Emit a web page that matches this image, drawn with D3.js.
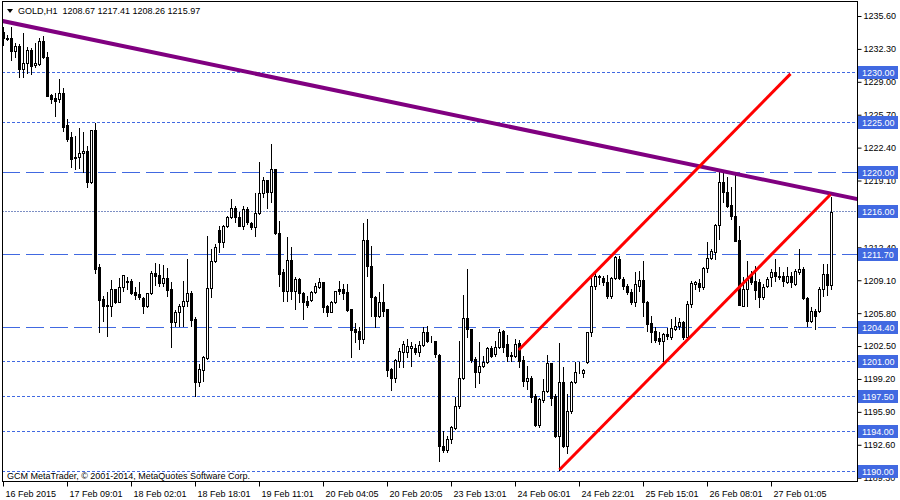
<!DOCTYPE html>
<html>
<head>
<meta charset="utf-8">
<script src="https://cdn.jsdelivr.net/npm/d3@7"></script>
<style>
  body { margin: 0; background: #fff; }
  svg { display: block; }
  text { font-family: 'Liberation Sans', Arial, sans-serif; font-size: 9px; fill: #000; }
</style>
</head>
<body>
<svg id="chart" width="900" height="500"></svg>
<script>
// GOLD H1 bars
var opens = [1234.0,1233.4,1233.4,1232.1,1232.6,1230.3,1230.9,1232.2,1230.7,1230.8,
  1233.1,1231.5,1227.7,1227.4,1227.3,1227.9,1224.7,1223.5,1221.5,1221.5,
  1221.9,1222.1,1219.0,1224.2,1210.4,1207.2,1206.6,1206.5,1208.2,1206.9,
  1208.4,1209.0,1209.0,1207.9,1207.7,1207.3,1206.5,1207.8,1209.8,1209.6,
  1208.8,1209.3,1208.2,1204.9,1205.9,1206.5,1207.0,1207.8,1205.2,1198.9,
  1200.1,1201.3,1208.3,1211.0,1214.1,1212.9,1214.5,1215.4,1216.3,1215.4,
  1214.5,1216.2,1214.8,1214.4,1215.8,1217.8,1219.2,1217.9,1220.3,1213.8,
  1209.9,1208.0,1211.1,1208.0,1209.2,1207.8,1207.0,1207.1,1207.9,1208.4,
  1208.9,1206.5,1205.9,1206.9,1208.2,1208.2,1207.9,1206.2,1204.2,1204.0,
  1203.2,1213.1,1210.5,1207.4,1205.5,1206.9,1206.2,1200.2,1199.3,1201.0,
  1201.9,1201.9,1202.3,1202.3,1201.9,1202.6,1203.9,1203.0,1203.0,1201.6,
  1192.5,1192.1,1193.2,1194.3,1196.5,1199.3,1205.3,1204.2,1201.2,1199.9,
  1200.5,1200.9,1202.3,1201.7,1202.4,1204.0,1202.7,1201.6,1201.5,1202.8,
  1201.1,1199.0,1199.3,1197.5,1194.6,1197.1,1198.0,1200.8,1197.5,1193.5,
  1198.9,1192.5,1196.0,1198.9,1199.9,1199.8,1200.9,1203.9,1208.5,1209.4,
  1209.3,1208.9,1207.5,1209.3,1211.2,1209.2,1208.5,1207.9,1206.9,1208.5,
  1209.1,1206.9,1204.8,1204.0,1203.3,1203.0,1203.7,1203.4,1204.2,1204.5,
  1204.9,1203.4,1206.7,1208.7,1208.8,1208.4,1210.3,1211.3,1211.9,1214.6,
  1219.0,1217.9,1216.6,1215.5,1213.1,1206.5,1208.2,1209.6,1209.0,1208.9,
  1207.4,1208.5,1209.4,1209.9,1209.4,1209.5,1208.9,1209.5,1208.7,1209.9,
  1210.2,1207.3,1205.0,1206.0,1206.0,1208.2,1209.7,1208.67];
var highs = [1234.5,1233.7,1234.5,1232.9,1232.8,1233.9,1232.5,1232.4,1232.9,1233.4,
  1233.6,1232.0,1227.8,1227.9,1229.3,1228.4,1225.3,1224.0,1223.6,1224.4,
  1224.0,1222.6,1224.2,1224.9,1210.7,1207.5,1207.9,1209.1,1208.2,1209.3,
  1209.6,1209.4,1209.2,1208.4,1208.9,1207.4,1207.8,1210.0,1210.8,1210.7,
  1210.6,1210.3,1208.9,1206.1,1206.7,1209.0,1211.2,1208.0,1205.4,1200.7,
  1201.5,1213.5,1212.2,1212.7,1214.5,1214.6,1215.5,1217.2,1216.5,1215.9,
  1216.5,1216.4,1214.9,1217.8,1221.0,1219.5,1219.2,1222.8,1220.3,1215.0,
  1210.2,1213.4,1212.4,1209.4,1209.3,1207.9,1207.5,1208.0,1208.8,1209.3,
  1208.9,1206.6,1207.0,1208.0,1209.0,1208.7,1208.7,1206.2,1204.8,1204.4,
  1214.8,1215.2,1212.5,1207.5,1207.9,1208.7,1206.2,1200.3,1201.2,1202.3,
  1203.0,1203.2,1202.9,1202.7,1203.0,1204.4,1204.5,1203.5,1203.0,1201.7,
  1194.0,1193.5,1194.5,1197.4,1203.0,1207.6,1210.2,1204.2,1201.4,1202.9,
  1201.5,1202.4,1202.5,1203.0,1204.2,1204.1,1203.6,1201.9,1203.2,1203.1,
  1201.5,1200.5,1199.5,1197.7,1197.3,1199.2,1201.6,1200.8,1197.7,1202.8,
  1200.4,1197.7,1199.0,1200.9,1200.9,1200.2,1203.9,1209.6,1209.9,1209.6,
  1209.5,1209.6,1209.4,1211.5,1211.5,1209.4,1208.7,1208.2,1209.9,1210.0,
  1211.0,1207.0,1205.5,1204.4,1203.9,1203.8,1204.3,1205.2,1205.4,1205.3,
  1205.0,1207.0,1209.0,1209.0,1209.2,1210.4,1212.9,1212.2,1214.7,1220.0,
  1220.0,1219.5,1218.5,1219.9,1214.5,1209.4,1211.0,1210.0,1210.5,1209.2,
  1208.7,1209.4,1210.2,1211.2,1210.4,1209.9,1210.4,1209.9,1210.2,1212.2,
  1210.4,1207.4,1206.4,1206.2,1208.4,1210.7,1210.7,1217.41];
var lows = [1232.7,1233.2,1231.2,1231.5,1229.5,1229.5,1229.9,1229.8,1230.5,1230.7,
  1231.4,1227.6,1226.9,1225.6,1227.0,1224.1,1223.1,1220.5,1220.3,1220.4,
  1220.0,1218.5,1218.9,1209.8,1203.9,1205.0,1203.5,1205.5,1206.8,1206.9,
  1208.0,1208.2,1207.7,1207.2,1207.2,1205.8,1206.4,1207.7,1208.6,1208.5,
  1208.5,1207.5,1202.4,1204.5,1204.5,1204.5,1206.5,1204.5,1197.5,1198.5,
  1199.0,1201.2,1207.4,1210.9,1211.9,1212.4,1214.4,1215.3,1214.9,1214.5,
  1214.2,1214.7,1214.2,1213.5,1215.7,1217.4,1216.3,1216.9,1213.7,1208.5,
  1207.0,1207.0,1207.2,1206.2,1206.9,1205.2,1206.4,1207.0,1207.8,1208.3,
  1205.9,1205.5,1205.9,1206.8,1207.7,1207.2,1206.0,1201.4,1202.9,1202.2,
  1202.8,1209.5,1205.5,1204.4,1205.4,1205.5,1199.5,1198.1,1198.9,1200.4,
  1200.4,1201.4,1200.5,1201.7,1201.5,1202.5,1202.9,1202.9,1201.4,1191.0,
  1191.9,1191.9,1192.8,1194.2,1196.3,1199.2,1203.4,1200.9,1198.4,1198.8,
  1200.4,1200.8,1201.4,1201.5,1202.3,1201.9,1201.0,1201.0,1201.4,1200.4,
  1198.5,1198.2,1196.9,1194.5,1194.4,1196.9,1197.9,1196.6,1193.4,1190.1,
  1192.4,1191.8,1195.8,1198.8,1199.8,1199.4,1200.8,1203.5,1208.2,1208.7,
  1208.6,1207.3,1207.3,1209.2,1209.2,1208.2,1207.7,1206.7,1206.5,1208.0,
  1205.5,1204.0,1202.9,1202.9,1202.7,1201.0,1203.2,1203.2,1204.1,1204.2,
  1203.2,1203.2,1206.4,1208.2,1208.0,1208.2,1209.9,1211.2,1211.2,1213.2,
  1216.9,1216.4,1215.2,1213.0,1206.6,1206.5,1206.5,1208.7,1207.2,1206.4,
  1207.2,1208.4,1208.5,1209.0,1209.2,1208.5,1208.8,1208.4,1208.6,1209.7,
  1207.2,1204.5,1204.9,1204.2,1205.9,1207.5,1207.6,1208.26];
var closes = [1233.4,1233.3,1232.1,1232.6,1230.3,1230.9,1232.2,1230.6,1230.9,1233.1,
  1231.5,1227.6,1227.3,1227.1,1227.9,1224.5,1223.3,1221.3,1221.4,1221.9,
  1222.1,1219.0,1224.2,1210.2,1207.1,1206.5,1206.5,1208.2,1206.9,1208.4,
  1209.6,1208.9,1207.8,1207.6,1207.4,1206.5,1207.8,1209.8,1209.5,1208.8,
  1209.3,1208.1,1204.9,1205.9,1206.5,1207.0,1207.8,1205.1,1198.9,1200.2,
  1201.4,1208.3,1211.0,1212.4,1212.9,1214.5,1215.4,1216.3,1215.4,1214.5,
  1216.2,1214.9,1214.4,1215.8,1217.8,1219.2,1217.9,1220.3,1213.8,1209.7,
  1208.0,1211.1,1208.0,1209.2,1207.8,1206.9,1206.6,1207.9,1208.5,1208.9,
  1206.4,1205.9,1206.9,1208.0,1208.0,1207.8,1206.1,1204.1,1203.9,1203.2,
  1213.1,1210.5,1207.4,1205.5,1206.9,1206.0,1200.1,1199.3,1201.1,1202.0,
  1202.7,1202.5,1202.5,1201.9,1202.6,1203.9,1203.0,1203.0,1201.7,1192.5,
  1192.1,1193.2,1194.4,1196.5,1199.3,1205.3,1204.2,1201.1,1199.9,1200.5,
  1200.9,1202.3,1201.5,1202.4,1203.9,1202.4,1201.5,1201.5,1202.7,1201.0,
  1199.0,1199.3,1197.4,1194.6,1197.2,1198.0,1200.8,1197.3,1193.5,1198.9,
  1192.5,1196.0,1198.9,1199.9,1199.9,1200.1,1203.9,1208.5,1209.5,1209.5,
  1208.9,1207.5,1209.3,1211.4,1209.3,1208.5,1207.9,1206.9,1208.7,1209.1,
  1206.9,1204.7,1203.9,1203.1,1203.0,1203.7,1203.5,1204.3,1204.5,1204.9,
  1203.4,1206.7,1208.8,1208.9,1208.4,1210.3,1211.3,1212.0,1214.6,1219.0,
  1217.9,1216.5,1215.5,1213.0,1206.6,1208.2,1209.3,1208.9,1208.1,1207.4,
  1208.4,1209.2,1209.9,1209.5,1209.5,1209.0,1209.5,1208.9,1210.0,1210.2,
  1207.3,1205.0,1206.0,1205.5,1208.2,1209.7,1208.6,1215.97];

// price ticks on the right scale and the marked levels
var priceTicks = [1235.6,1232.3,1229.0,1225.7,1222.4,1219.1,1212.4,1209.1,1205.8,1202.5,1199.2,1195.9,1192.6,1189.3];
var levels = [1230.0,1225.0,1220.0,1216.0,1211.7,1204.4,1201.0,1197.5,1194.0,1190.0];
var levelStyles = ['dot','dot','dash','fine','dash','dash','dot','dot','dot','dot'];

// time labels, one every 16 bars
var timeIndex = [0,16,32,48,64,80,96,112,128,144,160,176,192];
var timeLabels = ['16 Feb 2015','17 Feb 09:01','18 Feb 02:01','18 Feb 18:01','19 Feb 11:01','20 Feb 04:05',
  '20 Feb 20:05','23 Feb 13:01','24 Feb 06:01','24 Feb 22:01','25 Feb 15:01','26 Feb 08:01','27 Feb 01:05'];

// drawn objects: [bar index, price]
var trendLine = [[-1, 1235.16], [214, 1217.19]];
var channelUpper = [[128.8, 1202.1], [196.75, 1229.8]];
var channelLower = [[139, 1190.1], [206.75, 1217.7]];

var svg = d3.select('#chart');
var plotL = 2, plotR = 857, plotT = 1, plotB = 481;

var x = d3.scaleLinear().domain([0, 207]).range([3, 831]);
var y = d3.scaleLinear().domain([1190, 1235.6]).range([470.7, 16]);

svg.append('defs').append('clipPath').attr('id', 'clip')
  .append('rect').attr('x', plotL).attr('y', plotT).attr('width', plotR - plotL).attr('height', plotB - plotT);
var inner = svg.append('g').attr('clip-path', 'url(#clip)');

// horizontal levels
var dashes = { dot: '3,2', dash: '18,6', fine: '2,1' };
var levelColor = { dot: '#4169e1', dash: '#4169e1', fine: '#7d8fc4' };
inner.selectAll('line.level').data(levels).enter().append('line')
  .attr('class', 'level')
  .attr('x1', plotL).attr('x2', plotR)
  .attr('y1', function(d) { return Math.round(y(d)) + 0.5; })
  .attr('y2', function(d) { return Math.round(y(d)) + 0.5; })
  .attr('stroke', function(d, i) { return levelColor[levelStyles[i]]; }).attr('stroke-width', 1)
  .attr('stroke-dasharray', function(d, i) { return dashes[levelStyles[i]]; });

var bars = d3.range(opens.length);

// wicks
inner.selectAll('line.wick').data(bars).enter().append('line')
  .attr('x1', function(i) { return x(i) + 0.5; })
  .attr('x2', function(i) { return x(i) + 0.5; })
  .attr('y1', function(i) { return Math.round(y(highs[i])); })
  .attr('y2', function(i) { return Math.round(y(lows[i])) + 1; })
  .attr('stroke', '#000').attr('stroke-width', 1);

// bodies
bars.forEach(function(i) {
  var yo = Math.round(y(opens[i])), yc = Math.round(y(closes[i]));
  var bx = x(i) - 1;
  if (closes[i] >= opens[i]) {
    inner.append('rect')
      .attr('x', bx + 0.5).attr('y', yc + 0.5)
      .attr('width', 2).attr('height', Math.max(0, yo - yc))
      .attr('fill', '#fff').attr('stroke', '#000').attr('stroke-width', 1);
  } else {
    inner.append('rect')
      .attr('x', bx).attr('y', yo)
      .attr('width', 3).attr('height', Math.max(1, yc - yo + 1))
      .attr('fill', '#000');
  }
});

var objLine = d3.line().x(function(d) { return x(d[0]) + 0.5; }).y(function(d) { return y(d[1]); });

inner.append('path').datum(trendLine).attr('d', objLine)
  .attr('fill', 'none').attr('stroke', '#800080').attr('stroke-width', 4);
[channelUpper, channelLower].forEach(function(seg) {
  inner.append('path').datum(seg).attr('d', objLine)
    .attr('fill', 'none').attr('stroke', '#ff0000').attr('stroke-width', 3);
});

// frame
svg.append('rect').attr('x', plotL + 0.5).attr('y', plotT + 0.5)
  .attr('width', plotR - plotL).attr('height', plotB - plotT)
  .attr('fill', 'none').attr('stroke', '#000');

// right price scale
var yAxis = d3.axisRight(y).tickValues(priceTicks).tickSize(4).tickPadding(2)
  .tickFormat(d3.format('.2f'));
var gy = svg.append('g').attr('transform', 'translate(' + (plotR + 0.5) + ',0)').call(yAxis);
gy.select('.domain').remove();
gy.selectAll('.tick line').attr('stroke', '#000');
gy.selectAll('.tick text').attr('font-size', 9).attr('font-family', null).attr('fill', '#000');

var lv = svg.append('g').selectAll('g').data(levels).enter().append('g')
  .attr('transform', function(d) { return 'translate(' + (plotR + 1) + ',' + Math.round(y(d)) + ')'; });
lv.append('rect').attr('x', 0).attr('y', -6).attr('width', 40).attr('height', 13).attr('fill', '#4169e1');
lv.append('text').attr('x', 4).attr('y', 3.5).style('fill', '#fff').text(function(d) { return d3.format('.2f')(d); });

// time scale
var xAxis = d3.axisBottom(x).tickValues(timeIndex).tickSize(5).tickFormat(function(d, i) { return timeLabels[i]; });
var gx = svg.append('g').attr('transform', 'translate(0,' + (plotB + 0.5) + ')').call(xAxis);
gx.select('.domain').remove();
gx.selectAll('.tick').attr('transform', function(d) { return 'translate(' + (x(d) + 0.5) + ',0)'; });
gx.selectAll('.tick text').attr('text-anchor', 'start').attr('x', 2).attr('y', 9)
  .attr('font-size', 9).attr('font-family', null).attr('fill', '#000');

// header and copyright
svg.append('path').attr('d', 'M7,9 L13,9 L10,13 Z').attr('fill', '#000');
svg.append('text').attr('x', 18).attr('y', 14).text('GOLD,H1  1208.67 1217.41 1208.26 1215.97')
  .style('white-space', 'pre');
svg.append('text').attr('x', 7).attr('y', 479).text('GCM MetaTrader, \u00a9 2001-2014, MetaQuotes Software Corp.');
</script>
</body>
</html>
